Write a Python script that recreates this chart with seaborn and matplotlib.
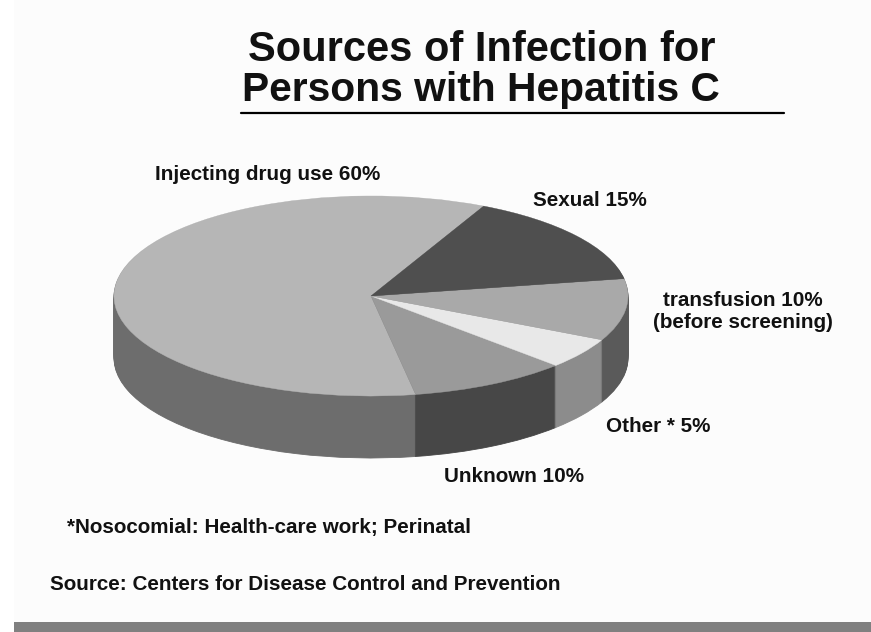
import matplotlib
matplotlib.use('Agg')
import matplotlib.pyplot as plt
from matplotlib.lines import Line2D
from matplotlib.patches import Rectangle
import numpy as np
import seaborn as sns

# Slices, counter-clockwise from the back of the disc.
categories = ['Injecting drug use', 'Unknown', 'Other', 'Transfusion', 'Sexual']
shares = [60, 10, 5, 10, 15]
top_colors = ['#b6b6b6', '#9a9a9a', '#e8e8e8', '#a9a9a9', '#4f4f4f']
wall_colors = ['#6d6d6d', '#474747', '#8c8c8c', '#5a5a5a', '#3c3c3c']

W, H = 871, 632
RX, RY, DEPTH = 257, 100, 62
CX, CY = 371, 296

sns.set_theme(style='white')
plt.rcParams['font.family'] = ['Liberation Sans', 'DejaVu Sans']

fig = plt.figure(figsize=(W / 100, H / 100), dpi=100, facecolor='white')
ax = fig.add_axes([0, 0, 1, 1])

# Background panel and the grey strip along the bottom.
fig.add_artist(Rectangle((14 / W, 0), 1 - 14 / W, 1, transform=fig.transFigure,
                         facecolor='#fcfcfc', edgecolor='none', zorder=-5))
fig.add_artist(Rectangle((14 / W, 0), 1 - 14 / W, 10 / H, transform=fig.transFigure,
                         facecolor='#808080', edgecolor='none', zorder=5))


def draw_pie(colors, offset, lw):
    wedges, _ = ax.pie(shares, colors=sns.color_palette(colors), startangle=64,
                       center=(0, -offset), radius=1)
    for w in wedges:
        w.set_edgecolor(w.get_facecolor())
        w.set_linewidth(lw)


# Extrude the wall by stacking pies, then lay the top on.
for off in np.arange(DEPTH, 0, -1) / RY:
    draw_pie(wall_colors, off, 0.6)
draw_pie(top_colors, 0, 0.3)

# One x unit is RX pixels, one y unit is RY pixels: this squashes the disc.
ax.set_aspect('auto')
ax.set_xlim(-CX / RX, (W - CX) / RX)
ax.set_ylim(-(H - CY) / RY, CY / RY)
ax.axis('off')


def label(x, y, s, size=14.85, ha='left'):
    fig.text(x / W, 1 - y / H, s, fontsize=size, fontweight='bold', ha=ha, va='center',
             color='#111111')


label(482, 50, 'Sources of Infection for', size=30, ha='center')
label(481, 90, 'Persons with Hepatitis C', size=29.3, ha='center')
fig.add_artist(Line2D([241 / W, 784 / W], [1 - 113 / H] * 2, color='black', linewidth=1.6))

label(155, 174, 'Injecting drug use 60%')
label(533, 201, 'Sexual 15%')
label(743, 301, 'transfusion 10%', ha='center')
label(743, 322, '(before screening)', ha='center')
label(606, 427, 'Other * 5%')
label(444, 477, 'Unknown 10%')
label(67, 528, '*Nosocomial: Health-care work; Perinatal')
label(50, 584, 'Source: Centers for Disease Control and Prevention')

fig.savefig('out.png', dpi=100)
